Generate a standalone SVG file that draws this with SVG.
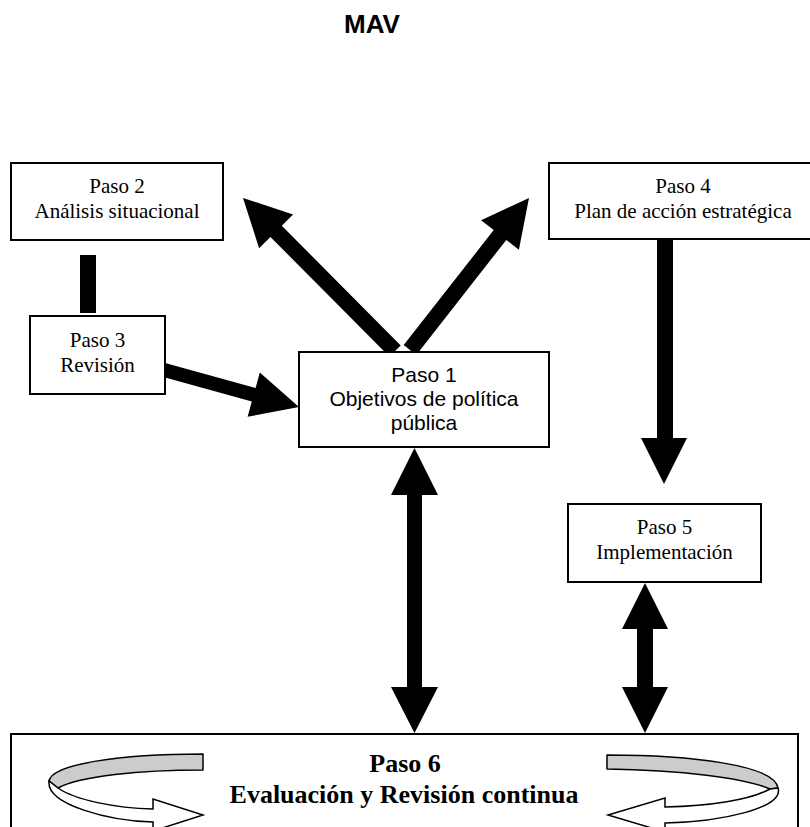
<svg xmlns="http://www.w3.org/2000/svg" width="810" height="827" viewBox="0 0 810 827">
<style>
.box{fill:#fff;stroke:#000;stroke-width:2}
.serif{font-family:"Liberation Serif","Times New Roman",serif;font-size:21px;fill:#000;text-anchor:middle}
.sans{font-family:"Liberation Sans",Arial,sans-serif;font-size:21px;fill:#000;text-anchor:middle}
.title{font-family:"Liberation Sans",Arial,sans-serif;font-size:26px;font-weight:bold;fill:#000;text-anchor:middle}
.bold{font-family:"Liberation Serif","Times New Roman",serif;font-size:26px;font-weight:bold;fill:#000;text-anchor:middle}
.arr{fill:#000;stroke:none}
.ring-back{fill:#cccccc;stroke:#000;stroke-width:1.5;stroke-linejoin:round}
.ring-front{fill:#fff;stroke:#000;stroke-width:1.5;stroke-linejoin:miter}
</style>
<rect width="810" height="827" fill="#fff"/>
<text class="title" x="372" y="33">MAV</text>

<g id="paso6">
<rect class="box" x="11" y="734" width="787" height="110"/>
<path class="ring-back" d="M203,754 C120,754 52,764 49,781 L58,788 C80,776 140,770 203,770 Z"/>
<path class="ring-front" d="M58,788 C75,800 115,808 153,809 L153,799 L203,815 L153,831 L153,822 C110,821 46,805 49,781 Z"/>
<path class="ring-back" d="M607,755 C690,755 775,765 778,788 L770,789 C745,778 680,770 607,769 Z"/>
<path class="ring-front" d="M770,789 C750,800 710,806 665,807 L665,798 L608,815 L665,832 L665,823 C720,822 785,808 778,788 Z"/>
<text class="bold" x="405" y="772">Paso 6</text>
<text class="bold" x="404" y="803">Evaluación y Revisión continua</text>
</g>

<g id="connectors">
<polygon class="arr" points="400.7,345.4 281.8,225.7 293.1,214.4 243,198 259.1,248.2 270.4,236.9 389.3,356.6"/>
<polygon class="arr" points="416.3,354.9 506.3,239.9 518.9,249.8 529,198 481.1,220.2 493.7,230.1 403.7,345.1"/>
<polygon class="arr" points="166,363.2 255.6,387.9 259.8,372.4 299,407 247.6,416.8 251.8,401.4 166,377.8"/>
<polygon class="arr" points="657,239 673,239 673,438 687,438 664,484 641,438 657,438"/>
<polygon class="arr" points="414.5,448 438,495 422,495 422,687 438,687 414.5,733 391,687 407,687 407,495 391,495"/>
<polygon class="arr" points="645,583 668,629 653,629 653,687 668,687 645,733 622,687 637,687 637,629 622,629"/>
<rect class="arr" x="80" y="255" width="16" height="58"/>
</g>

<g id="paso2">
<rect class="box" x="11" y="163" width="212" height="77"/>
<text class="serif" x="117" y="193">Paso 2</text>
<text class="serif" x="117" y="218">Análisis situacional</text>
</g>

<g id="paso3">
<rect class="box" x="30" y="316" width="135" height="78"/>
<text class="serif" x="97.5" y="347">Paso 3</text>
<text class="serif" x="97.5" y="372">Revisión</text>
</g>

<g id="paso1">
<rect class="box" x="299" y="352" width="250" height="95"/>
<text class="sans" x="424" y="382">Paso 1</text>
<text class="sans" x="424" y="406">Objetivos de política</text>
<text class="sans" x="424" y="430">pública</text>
</g>

<g id="paso4">
<rect class="box" x="549" y="163" width="268" height="76"/>
<text class="serif" x="683" y="193">Paso 4</text>
<text class="serif" x="683" y="218">Plan de acción estratégica</text>
</g>

<g id="paso5">
<rect class="box" x="568" y="504" width="193" height="78"/>
<text class="serif" x="664.5" y="534">Paso 5</text>
<text class="serif" x="664.5" y="559">Implementación</text>
</g>
</svg>
